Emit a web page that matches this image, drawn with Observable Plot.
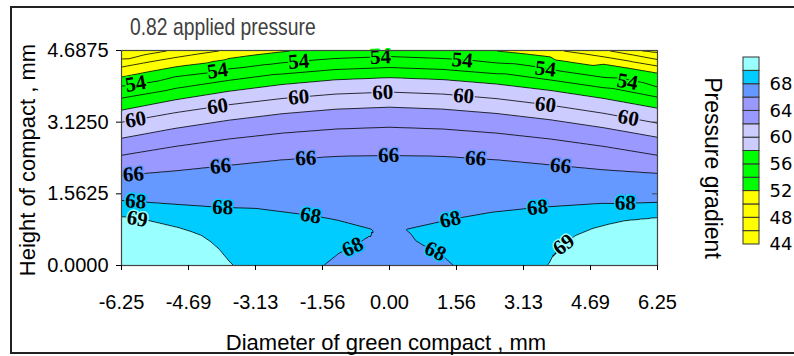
<!DOCTYPE html>
<html>
<head>
<meta charset="utf-8">
<script src="https://cdn.jsdelivr.net/npm/d3@7"></script>
<script src="https://cdn.jsdelivr.net/npm/@observablehq/plot@0.6"></script>
<style>
  html, body { margin: 0; padding: 0; background: #fff; width: 794px; height: 356px; overflow: hidden; }
  #border { position: absolute; left: 10px; top: 6px; width: 820px; height: 348px; border: 2px solid #222; box-sizing: border-box; }
  #chart { position: absolute; left: 0; top: 0; width: 700px; height: 356px; }
  #legend { position: absolute; left: 735px; top: 47px; width: 100px; height: 210px; }
  #overlay { position: absolute; left: 0; top: 0; pointer-events: none; }
</style>
</head>
<body>
<div id="border"></div>
<div id="chart"></div>
<div id="legend"></div>
<svg id="overlay" width="794" height="356">
  <text transform="translate(130,35) scale(0.84,1)" font-family="Liberation Sans, Arial, sans-serif" font-size="23" fill="#404040">0.82 applied pressure</text>
  <text x="386" y="350" text-anchor="middle" font-family="Liberation Sans, Arial, sans-serif" font-size="22" fill="#000">Diameter of green compact , mm</text>
  <text transform="translate(35,160) rotate(-90)" text-anchor="middle" font-family="Liberation Sans, Arial, sans-serif" font-size="22" fill="#000">Height of compact , mm</text>
  <text transform="translate(705,168) rotate(90)" text-anchor="middle" font-family="Liberation Sans, Arial, sans-serif" font-size="23" fill="#000">Pressure gradient</text>
</svg>
<script>
// ---------- axes ----------
const xTicks = [-6.25, -4.6875, -3.125, -1.5625, 0, 1.5625, 3.125, 4.6875, 6.25];
const xTickLabels = ["-6.25", "-4.69", "-3.13", "-1.56", "0.00", "1.56", "3.13", "4.69", "6.25"];
const yTicks = [0, 1.5625, 3.125, 4.6875];
const yTickLabels = ["0.0000", "1.5625", "3.1250", "4.6875"];

// ---------- contour levels and colours ----------
const fillThresholds = [44, 46, 48, 50, 52, 54, 56, 58, 60, 62, 64, 66, 68, 69];
const lineThresholds = [46, 48, 50, 52, 54, 56, 58, 60, 62, 64, 66, 68, 69];
const bandColors = ["#FFFF00", "#FFFF00", "#FFFF00", "#FFFF00", "#00FF00", "#00FF00", "#00FF00",
                    "#CCCCFF", "#CCCCFF", "#9999FF", "#9999FF", "#6699FF", "#00CCFF", "#99FFFF"];
const legendEdges = [44, 46, 48, 50, 52, 54, 56, 58, 60, 62, 64, 66, 68, 70, 72];
const legendTicks = [44, 48, 52, 56, 60, 64, 68];

// ---------- contour line positions (x mm, y mm) ----------
const xCols = [-6.25, -5, -3.75, -2.5, -1.25, 0, 1.25, 2.5, 3.75, 5, 6.25];
const y54 = [3.912, 4.115, 4.286, 4.420, 4.514, 4.556, 4.513, 4.416, 4.276, 4.101, 3.890];
const y56 = [3.649, 3.860, 4.036, 4.175, 4.273, 4.316, 4.274, 4.180, 4.045, 3.875, 3.671];
const y58 = [3.387, 3.612, 3.799, 3.948, 4.051, 4.097, 4.054, 3.957, 3.818, 3.642, 3.431];
const y60 = [3.125, 3.332, 3.505, 3.642, 3.738, 3.781, 3.737, 3.638, 3.496, 3.317, 3.103];
const y62 = [2.775, 2.990, 3.168, 3.310, 3.409, 3.453, 3.410, 3.315, 3.178, 3.004, 2.797];
const y64 = [2.404, 2.597, 2.759, 2.887, 2.976, 3.016, 2.976, 2.887, 2.759, 2.597, 2.404];
const y66 = [1.967, 2.065, 2.185, 2.306, 2.382, 2.404, 2.382, 2.306, 2.196, 2.087, 2.010];

const line46L = [[-6.25, 4.677], [-5.9, 4.6875]];
const line46R = [[5.8, 4.6875], [6.25, 4.64]];
const line48L = [[-6.25, 4.502], [-5.7, 4.598], [-5.14, 4.6875]];
const line48R = [[5.09, 4.6875], [5.7, 4.587], [6.25, 4.491]];
const line50L = [[-6.25, 4.327], [-5.6, 4.438], [-5, 4.534], [-4.5, 4.607], [-3.91, 4.6875]];
const line50R = [[3.99, 4.6875], [4.5, 4.620], [5, 4.549], [5.6, 4.456], [6.25, 4.349]];
const line52L = [[-6.25, 4.108], [-5.6, 4.227], [-5, 4.329], [-3.75, 4.514], [-3.1, 4.596], [-2.5, 4.660], [-2.22, 4.6875]];
const line52R = [[2.4, 4.6875], [3.1, 4.622], [3.75, 4.551], [5, 4.389], [5.6, 4.300], [6.25, 4.196]];
const line68L = [[-6.25, 1.420], [-5.107, 1.344], [-3.895, 1.267], [-3.125, 1.246], [-1.842, 1.093], [-1.423, 1.027],
                 [-1.189, 0.983], [-0.396, 0.787], [-0.372, 0.721], [-0.443, 0.612], [-0.560, 0.590],
                 [-0.793, 0.437], [-1.189, 0.262], [-1.539, 0]];
const line68R = [[6.25, 1.377], [4.921, 1.355], [3.451, 1.267], [2.355, 1.158], [1.423, 1.005], [0.373, 0.787],
                 [0.490, 0.699], [0.607, 0.546], [0.793, 0.437], [1.189, 0.262], [1.493, 0]];
const line69L = [[-6.25, 1.071], [-5.620, 0.983], [-4.921, 0.830], [-4.65, 0.75], [-4.384, 0.656], [-4.174, 0.524],
                 [-3.988, 0.372], [-3.755, 0.109], [-3.638, 0]];
const line69R = [[6.25, 1.049], [5.504, 0.983], [5.1, 0.90], [4.734, 0.809], [4.338, 0.656], [4.034, 0.437],
                 [3.801, 0.219], [3.685, 0]];

// spot values read at corners, centre and inside the 68–69 pockets (x, y, value)
const spotValues = [[-6.25, 0, 70], [6.25, 0, 70], [-5.2, 0.35, 69.6], [5.2, 0.35, 69.6],
                    [0, 0, 67.4], [0, 0.45, 67.6], [0, 0.8, 67.8],
                    [-3.0, 0.95, 68.5], [-2.2, 0.55, 68.55], [-2.7, 0.2, 68.7], [-1.4, 0.75, 68.35], [-0.85, 0.68, 68.2], [-1.6, 0.3, 68.4],
                    [3.0, 0.95, 68.5], [2.2, 0.55, 68.55], [2.7, 0.2, 68.7], [1.4, 0.75, 68.35], [0.85, 0.68, 68.2], [1.6, 0.3, 68.4],
                    [-6.25, 4.6875, 45.9], [6.25, 4.6875, 45.7], [0, 4.6875, 52.9]];

// contour label positions (x in mm along each line; crossing index)
const labels54 = [-5.92, -4.01, -2.12, -0.21, 1.70, 3.64, 5.55];
const labels60 = [-5.92, -4.01, -2.12, -0.16, 1.73, 3.64, 5.57];
const labels66 = [-5.97, -3.94, -1.95, -0.02, 2.01, 3.99];
const labels68L = [[-5.92, 0], [-3.89, 0], [-1.84, 0], [-0.86, 1]];
const labels68R = [[5.50, 0], [3.45, 0], [1.42, 0], [1.07, 1]];
const labels69L = [[-5.88, 0]];
const labels69R = [[4.06, 0]];

// ---------- build ----------
const W = 700, H = 356, mL = 121, mR = 43, mT = 50, mB = 91;
const xDomain = [-6.25, 6.25], yDomain = [0, 4.6875];
const kx = (W - mL - mR) / (xDomain[1] - xDomain[0]);
const ky = (H - mT - mB) / (yDomain[1] - yDomain[0]);

const colLine = ys => xCols.map((x, i) => [x, ys[i]]);
const lines = [
  [46, line46L], [46, line46R], [48, line48L], [48, line48R], [50, line50L], [50, line50R],
  [52, line52L], [52, line52R], [54, colLine(y54)], [56, colLine(y56)], [58, colLine(y58)],
  [60, colLine(y60)], [62, colLine(y62)], [64, colLine(y64)], [66, colLine(y66)],
  [68, line68L], [68, line68R], [69, line69L], [69, line69R]
];
const points = [];
for (const [v, pts] of lines) for (const [x, y] of pts) points.push({x, y, v});
for (const [x, y, v] of spotValues) points.push({x, y, v});

function crossing(line, x, k) {
  const out = [];
  for (let i = 0; i < line.length - 1; i++) {
    const [x0, y0] = line[i], [x1, y1] = line[i + 1];
    if (x0 === x1) continue;
    if ((x - x0) * (x - x1) <= 0) {
      const t = (x - x0) / (x1 - x0);
      let a = Math.atan2(-(y1 - y0) * ky, (x1 - x0) * kx) * 180 / Math.PI;
      if (a > 90) a -= 180;
      if (a < -90) a += 180;
      out.push({x, y: y0 + t * (y1 - y0), rotate: a});
    }
  }
  return out[k];
}
const colorOf = lv => bandColors[fillThresholds.indexOf(lv)];
const labelGroups = [
  [54, labels54.map(x => crossing(colLine(y54), x, 0))],
  [60, labels60.map(x => crossing(colLine(y60), x, 0))],
  [66, labels66.map(x => crossing(colLine(y66), x, 0))],
  [68, labels68L.map(([x, k]) => crossing(line68L, x, k)).concat(labels68R.map(([x, k]) => crossing(line68R, x, k)))],
  [69, labels69L.map(([x, k]) => crossing(line69L, x, k)).concat(labels69R.map(([x, k]) => crossing(line69R, x, k)))]
];

const labelMarks = labelGroups.map(([lv, data]) => Plot.text(data.filter(Boolean), {
  x: "x", y: "y", rotate: "rotate", text: () => String(lv),
  fill: "#000", stroke: colorOf(lv), strokeWidth: 3, paintOrder: "stroke",
  fontSize: 21, fontWeight: "bold", fontFamily: "Liberation Serif, Times New Roman, serif"
}));

const chart = Plot.plot({
  width: W, height: H,
  marginLeft: mL, marginRight: mR, marginTop: mT, marginBottom: mB,
  style: {fontFamily: "Liberation Sans, Arial, sans-serif", fontSize: "20px", color: "#000", background: "transparent", overflow: "visible"},
  x: {domain: xDomain},
  y: {domain: yDomain},
  color: {type: "threshold", domain: fillThresholds.slice(1), range: bandColors},
  marks: [
    Plot.contour(points, {x: "x", y: "y", fill: "v", thresholds: fillThresholds, interpolate: "barycentric", pixelSize: 1}),
    Plot.contour(points, {x: "x", y: "y", value: "v", thresholds: lineThresholds, interpolate: "barycentric", pixelSize: 1,
                          stroke: "#000", strokeWidth: 0.8, fill: "none"}),
    ...labelMarks,
    Plot.frame({stroke: "#444", strokeWidth: 1.2}),
    Plot.ruleY(yTicks, {x1: xDomain[1] - 5 / kx, x2: xDomain[1], stroke: "#444"}),
    Plot.axisX(xTicks, {tickFormat: d => xTickLabels[xTicks.indexOf(d)], tickSize: 5, tickPadding: 24, label: null, fontSize: 20}),
    Plot.axisY(yTicks, {tickFormat: d => yTickLabels[yTicks.indexOf(d)], tickSize: 5, tickPadding: 8, label: null, fontSize: 20})
  ]
});
document.getElementById("chart").appendChild(chart);

const legendBins = legendEdges.slice(0, -1).map((lo, i) => ({lo, hi: legendEdges[i + 1], color: bandColors[i]}));
const legend = Plot.plot({
  width: 100, height: 210,
  marginLeft: 8, marginRight: 76, marginTop: 10, marginBottom: 13,
  style: {fontFamily: "DejaVu Sans, Verdana, sans-serif", fontSize: "18px", color: "#000", background: "transparent", overflow: "visible", maxWidth: "none"},
  x: {domain: [0, 1], axis: null},
  y: {domain: [legendEdges[0], legendEdges[legendEdges.length - 1]], axis: null},
  marks: [
    Plot.rect(legendBins, {x1: 0, x2: 1, y1: "lo", y2: "hi", fill: "color", stroke: "#333", strokeWidth: 1}),
    Plot.axisY(legendTicks, {anchor: "right", tickSize: 0, tickPadding: 10, label: null, fontSize: 18})
  ]
});
document.getElementById("legend").appendChild(legend);
</script>
</body>
</html>
